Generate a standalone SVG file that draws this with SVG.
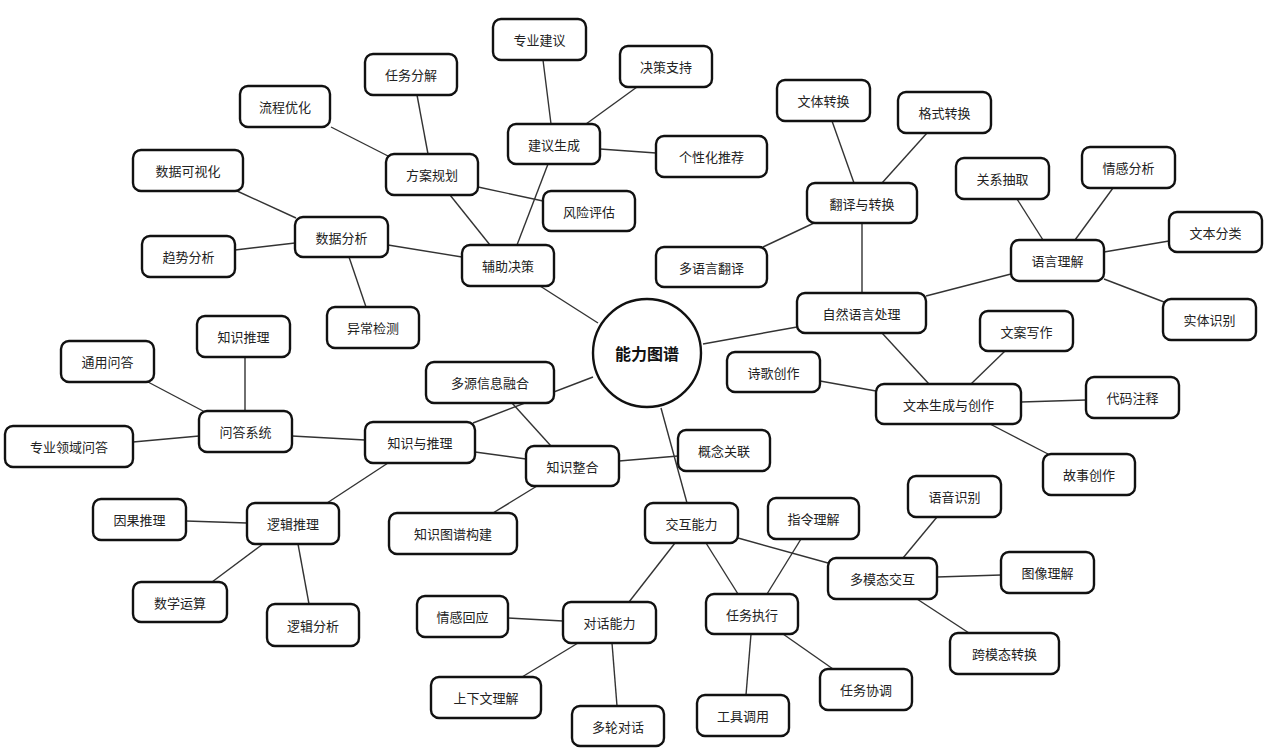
<svg xmlns="http://www.w3.org/2000/svg" width="1280" height="755" viewBox="0 0 1280 755">
<style>
.bg{fill:#ffffff}
.edges line{stroke:#333;stroke-width:1.4}
.n rect{fill:#fff;stroke:#111;stroke-width:2.4}
.n text{font-family:"Noto Sans CJK SC","Noto Sans",sans-serif;font-size:13px;fill:#222;text-anchor:middle;dominant-baseline:central}
.c circle{fill:#fff;stroke:#111;stroke-width:2.4}
.c text{font-family:"Noto Sans CJK SC","Noto Sans",sans-serif;font-size:16px;font-weight:bold;fill:#111;text-anchor:middle;dominant-baseline:central}
</style>
<rect class="bg" x="0" y="0" width="1280" height="755"/>
<g id="connectors" class="edges">
<line x1="540" y1="286" x2="598" y2="323"/>
<line x1="797" y1="327" x2="703" y2="344"/>
<line x1="473" y1="423" x2="593" y2="377"/>
<line x1="687" y1="503" x2="661" y2="408"/>
<line x1="490" y1="245" x2="450" y2="195"/>
<line x1="517" y1="245" x2="548" y2="164"/>
<line x1="462" y1="257" x2="388" y2="245"/>
<line x1="388" y1="156" x2="331" y2="127"/>
<line x1="428" y1="154" x2="417" y2="95"/>
<line x1="478" y1="187" x2="543" y2="201"/>
<line x1="551" y1="124" x2="543" y2="60"/>
<line x1="586" y1="124" x2="637" y2="87"/>
<line x1="600" y1="149" x2="656" y2="153"/>
<line x1="296" y1="218" x2="237" y2="191"/>
<line x1="295" y1="243" x2="235" y2="250"/>
<line x1="349" y1="257" x2="366" y2="307"/>
<line x1="862" y1="293" x2="862" y2="223"/>
<line x1="926" y1="296" x2="1011" y2="274"/>
<line x1="882" y1="333" x2="929" y2="384"/>
<line x1="854" y1="183" x2="832" y2="121"/>
<line x1="882" y1="183" x2="927" y2="133"/>
<line x1="814" y1="223" x2="763" y2="247"/>
<line x1="1043" y1="240" x2="1017" y2="199"/>
<line x1="1075" y1="240" x2="1113" y2="188"/>
<line x1="1104" y1="252" x2="1169" y2="241"/>
<line x1="1104" y1="279" x2="1164" y2="302"/>
<line x1="971" y1="384" x2="1005" y2="351"/>
<line x1="876" y1="391" x2="820" y2="381"/>
<line x1="1021" y1="402" x2="1086" y2="400"/>
<line x1="990" y1="424" x2="1048" y2="454"/>
<line x1="365" y1="440" x2="292" y2="436"/>
<line x1="475" y1="452" x2="526" y2="459"/>
<line x1="388" y1="463" x2="327" y2="503"/>
<line x1="203" y1="411" x2="148" y2="382"/>
<line x1="245" y1="357" x2="245" y2="411"/>
<line x1="199" y1="436" x2="133" y2="442"/>
<line x1="551" y1="446" x2="512" y2="403"/>
<line x1="619" y1="461" x2="678" y2="456"/>
<line x1="537" y1="486" x2="493" y2="513"/>
<line x1="247" y1="523" x2="186" y2="521"/>
<line x1="263" y1="544" x2="212" y2="582"/>
<line x1="298" y1="544" x2="309" y2="604"/>
<line x1="675" y1="543" x2="629" y2="602"/>
<line x1="706" y1="543" x2="738" y2="594"/>
<line x1="738" y1="538" x2="828" y2="563"/>
<line x1="767" y1="594" x2="801" y2="539"/>
<line x1="751" y1="634" x2="746" y2="695"/>
<line x1="783" y1="634" x2="833" y2="669"/>
<line x1="903" y1="558" x2="937" y2="517"/>
<line x1="937" y1="577" x2="1001" y2="575"/>
<line x1="917" y1="599" x2="969" y2="633"/>
<line x1="563" y1="621" x2="508" y2="618"/>
<line x1="578" y1="643" x2="522" y2="677"/>
<line x1="612" y1="643" x2="617" y2="706"/>
</g>
<g id="center" class="c"><circle cx="647" cy="353" r="54"/><text x="647" y="353">能力图谱</text></g>
<g id="fuzhu" class="n"><rect x="462" y="245" width="92" height="41" rx="8"/><text x="508" y="265.5">辅助决策</text></g>
<g id="fangan" class="n"><rect x="386" y="154" width="92" height="41" rx="8"/><text x="432" y="174.5">方案规划</text></g>
<g id="jianyi" class="n"><rect x="508" y="124" width="92" height="40" rx="8"/><text x="554" y="144">建议生成</text></g>
<g id="shujufenxi" class="n"><rect x="295" y="217" width="93" height="40" rx="8"/><text x="341.5" y="237">数据分析</text></g>
<g id="liucheng" class="n"><rect x="240" y="86" width="90" height="41" rx="8"/><text x="285" y="106.5">流程优化</text></g>
<g id="renwufenjie" class="n"><rect x="365" y="54" width="92" height="41" rx="8"/><text x="411" y="74.5">任务分解</text></g>
<g id="fengxian" class="n"><rect x="543" y="191" width="92" height="40" rx="8"/><text x="589" y="211">风险评估</text></g>
<g id="zhuanyejianyi" class="n"><rect x="493" y="19" width="93" height="41" rx="8"/><text x="539.5" y="39.5">专业建议</text></g>
<g id="juece" class="n"><rect x="620" y="46" width="92" height="41" rx="8"/><text x="666" y="66.5">决策支持</text></g>
<g id="gexinghua" class="n"><rect x="656" y="136" width="111" height="41" rx="8"/><text x="711.5" y="156.5">个性化推荐</text></g>
<g id="keshihua" class="n"><rect x="133" y="150" width="110" height="41" rx="8"/><text x="188" y="170.5">数据可视化</text></g>
<g id="qushi" class="n"><rect x="142" y="236" width="93" height="41" rx="8"/><text x="188.5" y="256.5">趋势分析</text></g>
<g id="yichang" class="n"><rect x="327" y="307" width="92" height="41" rx="8"/><text x="373" y="327.5">异常检测</text></g>
<g id="nlp" class="n"><rect x="797" y="293" width="129" height="40" rx="8"/><text x="861.5" y="313">自然语言处理</text></g>
<g id="fanyi" class="n"><rect x="807" y="183" width="110" height="40" rx="8"/><text x="862" y="203">翻译与转换</text></g>
<g id="wenti" class="n"><rect x="777" y="80" width="93" height="41" rx="8"/><text x="823.5" y="100.5">文体转换</text></g>
<g id="geshi" class="n"><rect x="898" y="92" width="93" height="41" rx="8"/><text x="944.5" y="112.5">格式转换</text></g>
<g id="duoyuyan" class="n"><rect x="656" y="247" width="111" height="40" rx="8"/><text x="711.5" y="267">多语言翻译</text></g>
<g id="yuyanlijie" class="n"><rect x="1011" y="240" width="93" height="41" rx="8"/><text x="1057.5" y="260.5">语言理解</text></g>
<g id="guanxi" class="n"><rect x="956" y="158" width="93" height="41" rx="8"/><text x="1002.5" y="178.5">关系抽取</text></g>
<g id="qinggan" class="n"><rect x="1082" y="147" width="93" height="41" rx="8"/><text x="1128.5" y="167.5">情感分析</text></g>
<g id="wenbenfenlei" class="n"><rect x="1169" y="212" width="93" height="40" rx="8"/><text x="1215.5" y="232">文本分类</text></g>
<g id="shiti" class="n"><rect x="1163" y="299" width="93" height="41" rx="8"/><text x="1209.5" y="319.5">实体识别</text></g>
<g id="shengcheng" class="n"><rect x="876" y="384" width="145" height="40" rx="8"/><text x="948.5" y="404">文本生成与创作</text></g>
<g id="wenan" class="n"><rect x="980" y="311" width="93" height="40" rx="8"/><text x="1026.5" y="331">文案写作</text></g>
<g id="shige" class="n"><rect x="727" y="352" width="93" height="40" rx="8"/><text x="773.5" y="372">诗歌创作</text></g>
<g id="daima" class="n"><rect x="1086" y="377" width="93" height="41" rx="8"/><text x="1132.5" y="397.5">代码注释</text></g>
<g id="gushi" class="n"><rect x="1043" y="454" width="92" height="41" rx="8"/><text x="1089" y="474.5">故事创作</text></g>
<g id="zhishi" class="n"><rect x="365" y="422" width="110" height="41" rx="8"/><text x="420" y="442.5">知识与推理</text></g>
<g id="wenda" class="n"><rect x="199" y="411" width="93" height="41" rx="8"/><text x="245.5" y="431.5">问答系统</text></g>
<g id="tongyong" class="n"><rect x="61" y="341" width="93" height="41" rx="8"/><text x="107.5" y="361.5">通用问答</text></g>
<g id="zhishituili" class="n"><rect x="197" y="316" width="93" height="41" rx="8"/><text x="243.5" y="336.5">知识推理</text></g>
<g id="zhuanyelingyu" class="n"><rect x="5" y="426" width="128" height="41" rx="8"/><text x="69" y="446.5">专业领域问答</text></g>
<g id="zhenghe" class="n"><rect x="526" y="446" width="93" height="40" rx="8"/><text x="572.5" y="466">知识整合</text></g>
<g id="duoyuan" class="n"><rect x="426" y="362" width="128" height="41" rx="8"/><text x="490" y="382.5">多源信息融合</text></g>
<g id="gainian" class="n"><rect x="678" y="430" width="92" height="41" rx="8"/><text x="724" y="450.5">概念关联</text></g>
<g id="tupu" class="n"><rect x="389" y="513" width="128" height="41" rx="8"/><text x="453" y="533.5">知识图谱构建</text></g>
<g id="luoji" class="n"><rect x="247" y="503" width="92" height="41" rx="8"/><text x="293" y="523.5">逻辑推理</text></g>
<g id="yinguo" class="n"><rect x="93" y="499" width="93" height="41" rx="8"/><text x="139.5" y="519.5">因果推理</text></g>
<g id="shuxue" class="n"><rect x="133" y="582" width="94" height="40" rx="8"/><text x="180" y="602">数学运算</text></g>
<g id="luojifenxi" class="n"><rect x="267" y="604" width="92" height="42" rx="8"/><text x="313" y="625">逻辑分析</text></g>
<g id="jiaohu" class="n"><rect x="645" y="503" width="93" height="40" rx="8"/><text x="691.5" y="523">交互能力</text></g>
<g id="duihua" class="n"><rect x="563" y="602" width="93" height="41" rx="8"/><text x="609.5" y="622.5">对话能力</text></g>
<g id="zhixing" class="n"><rect x="706" y="594" width="92" height="40" rx="8"/><text x="752" y="614">任务执行</text></g>
<g id="duomotai" class="n"><rect x="828" y="558" width="109" height="41" rx="8"/><text x="882.5" y="578.5">多模态交互</text></g>
<g id="zhiling" class="n"><rect x="768" y="498" width="91" height="41" rx="8"/><text x="813.5" y="518.5">指令理解</text></g>
<g id="gongju" class="n"><rect x="697" y="695" width="92" height="41" rx="8"/><text x="743" y="715.5">工具调用</text></g>
<g id="xietiao" class="n"><rect x="820" y="669" width="92" height="41" rx="8"/><text x="866" y="689.5">任务协调</text></g>
<g id="yuyin" class="n"><rect x="908" y="476" width="93" height="41" rx="8"/><text x="954.5" y="496.5">语音识别</text></g>
<g id="tuxiang" class="n"><rect x="1001" y="552" width="93" height="41" rx="8"/><text x="1047.5" y="572.5">图像理解</text></g>
<g id="kuamotai" class="n"><rect x="950" y="633" width="109" height="41" rx="8"/><text x="1004.5" y="653.5">跨模态转换</text></g>
<g id="qinganhuiying" class="n"><rect x="417" y="596" width="91" height="41" rx="8"/><text x="462.5" y="616.5">情感回应</text></g>
<g id="shangxiawen" class="n"><rect x="431" y="677" width="110" height="41" rx="8"/><text x="486" y="697.5">上下文理解</text></g>
<g id="duolun" class="n"><rect x="572" y="706" width="92" height="40" rx="8"/><text x="618" y="726">多轮对话</text></g>
</svg>
